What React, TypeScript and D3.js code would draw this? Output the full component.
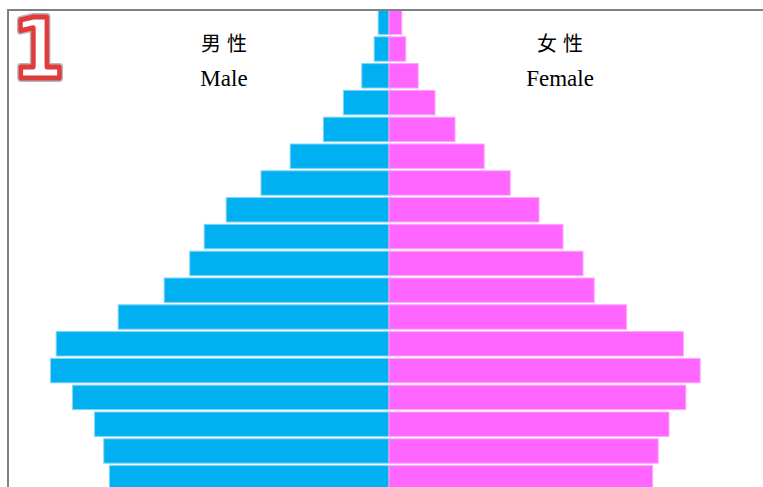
import React, { useRef, useEffect } from 'react';
import * as d3 from 'd3';

// age groups, top to bottom
const ageGroups = [
    '85+', '80-84', '75-79', '70-74', '65-69', '60-64', '55-59', '50-54', '45-49',
    '40-44', '35-39', '30-34', '25-29', '20-24', '15-19', '10-14', '5-9', '0-4',
];

// share of population (%)
const maleValues = [0.27, 0.37, 0.68, 1.14, 1.64, 2.47, 3.2, 4.07, 4.62, 4.98, 5.62, 6.77, 8.32, 8.46, 7.91, 7.36, 7.13, 6.99];
const femaleValues = [0.32, 0.42, 0.73, 1.15, 1.65, 2.38, 3.03, 3.75, 4.35, 4.85, 5.13, 5.94, 7.36, 7.78, 7.42, 7.0, 6.73, 6.59];

const maleLabels = ['男性', 'Male'];
const femaleLabels = ['女性', 'Female'];

const WIDTH = 763;
const HEIGHT = 487;

const App: React.FC = () => {
    const svgRef = useRef<SVGSVGElement | null>(null);

    useEffect(() => {
        const svg = d3.select(svgRef.current);
        svg.selectAll('*').remove();

        const centerX = 389;
        const step = 26.8;

        const y = d3.scaleBand<string>()
            .domain(ageGroups)
            .range([8.8, 8.8 + step * ageGroups.length])
            .paddingInner(0.09)
            .paddingOuter(0.045);

        const x = d3.scaleLinear()
            .domain([0, 9])
            .range([0, 360]);

        const rows = ageGroups.map((age, i) => ({ age, male: maleValues[i], female: femaleValues[i] }));

        // male bars
        svg.append('g')
            .selectAll('rect')
            .data(rows)
            .enter()
            .append('rect')
            .attr('x', d => centerX - x(d.male))
            .attr('y', d => y(d.age)!)
            .attr('width', d => x(d.male))
            .attr('height', y.bandwidth())
            .attr('fill', '#00B0F0')
            .attr('stroke', '#7DD4F6')
            .attr('stroke-width', 1);

        // female bars
        svg.append('g')
            .selectAll('rect')
            .data(rows)
            .enter()
            .append('rect')
            .attr('x', centerX)
            .attr('y', d => y(d.age)!)
            .attr('width', d => x(d.female))
            .attr('height', y.bandwidth())
            .attr('fill', '#FF66FF')
            .attr('stroke', '#FFA3FF')
            .attr('stroke-width', 1);

        // frame
        svg.append('path')
            .attr('d', `M8,${HEIGHT + 5}V10H${WIDTH + 5}`)
            .attr('fill', 'none')
            .attr('stroke', '#808080')
            .attr('stroke-width', 2);

        // titles
        const titles = [
            { cx: 224, lines: maleLabels },
            { cx: 560, lines: femaleLabels },
        ];
        titles.forEach(t => {
            svg.append('text')
                .attr('x', t.cx + 3)
                .attr('y', 51)
                .attr('text-anchor', 'middle')
                .style('font-family', '"Noto Sans CJK SC", sans-serif')
                .style('font-size', '20px')
                .style('letter-spacing', '6px')
                .attr('fill', '#000')
                .text(t.lines[0]);
            svg.append('text')
                .attr('x', t.cx)
                .attr('y', 86)
                .attr('text-anchor', 'middle')
                .style('font-family', '"Liberation Serif", "Times New Roman", serif')
                .style('font-size', '23px')
                .attr('fill', '#000')
                .text(t.lines[1]);
        });

        // badge "1"
        const badge = svg.append('g')
            .attr('transform', 'translate(12,78) scale(0.9,1)');
        badge.append('text')
            .style('font-family', '"DejaVu Sans", sans-serif')
            .style('font-weight', 'bold')
            .style('font-size', '84px')
            .attr('fill', 'none')
            .attr('stroke', '#9a9a9a')
            .attr('stroke-width', 8)
            .attr('stroke-linejoin', 'round')
            .attr('opacity', 0.7)
            .text('1');
        badge.append('text')
            .style('font-family', '"DejaVu Sans", sans-serif')
            .style('font-weight', 'bold')
            .style('font-size', '84px')
            .attr('fill', '#fff')
            .attr('stroke', '#E03C3C')
            .attr('stroke-width', 5)
            .attr('stroke-linejoin', 'round')
            .text('1');
    }, []);

    return (
        <svg
            ref={svgRef}
            width={WIDTH}
            height={HEIGHT}
            style={{ position: 'absolute', left: 0, top: 0, background: '#fff' }}
        />
    );
};

export default App;
